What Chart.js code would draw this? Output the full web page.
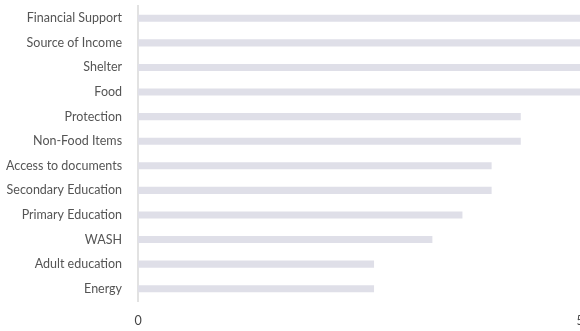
<!DOCTYPE html>
<html>
<head>
<meta charset="utf-8">
<script src="https://cdn.jsdelivr.net/npm/chart.js@4/dist/chart.umd.min.js"></script>
<style>
html,body{margin:0;padding:0;overflow:hidden;background:#fff;width:580px;height:331px;}
#wrap{position:absolute;left:0;top:0;width:580px;height:331px;}
</style>
</head>
<body>
<div id="wrap"><canvas id="c" width="580" height="331"></canvas></div>
<script>
const categories = ["Financial Support","Source of Income","Shelter","Food","Protection","Non-Food Items","Access to documents","Secondary Education","Primary Education","WASH","Adult education","Energy"];
const values = [5, 5, 5, 5, 4.33, 4.33, 4, 4, 3.67, 3.33, 2.67, 2.67];
const tickValues = [0, 5];

new Chart(document.getElementById('c'), {
  type: 'bar',
  data: {
    labels: categories,
    datasets: [{
      data: values,
      backgroundColor: '#dfdfe8',
      borderWidth: 0,
      barPercentage: 0.29,
      categoryPercentage: 1
    }]
  },
  options: {
    indexAxis: 'y',
    responsive: false,
    animation: false,
    layout: { padding: { top: 6, bottom: 3, left: 6, right: 0 } },
    plugins: { legend: { display: false }, tooltip: { enabled: false } },
    scales: {
      x: {
        min: 0, max: 5,
        afterBuildTicks: (axis) => { axis.ticks = tickValues.map(v => ({ value: v })); },
        afterFit: (s) => { s.paddingLeft = 0; s.paddingRight = 0; },
        grid: { display: false, drawTicks: true, tickLength: 12 },
        border: { display: false },
        ticks: { padding: 0, color: '#444', font: { family: 'Lato', size: 12.5 } }
      },
      y: {
        afterFit: (s) => { s.paddingTop = 0; s.paddingBottom = 0; },
        grid: { display: false, drawTicks: true, tickLength: 16 },
        border: { display: true, color: '#e2e2e2', width: 2 },
        ticks: { padding: 0, color: '#555', font: { family: 'Lato', size: 12.5 } }
      }
    }
  }
});
</script>
</body>
</html>
